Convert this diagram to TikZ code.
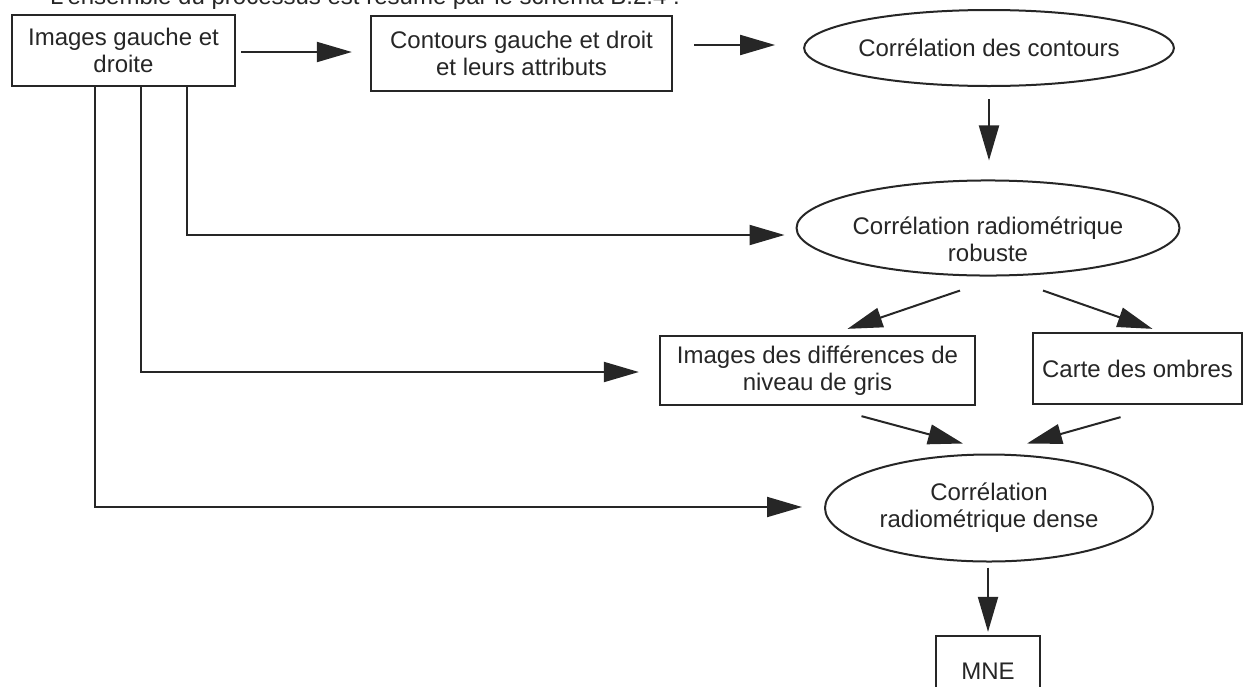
\documentclass[tikz,border=0pt]{standalone}
\usepackage{fontspec}
\setmainfont{Liberation Sans}
\usetikzlibrary{arrows.meta,shapes.geometric,calc}
\begin{document}
\begin{tikzpicture}[x=1pt,y=-1pt,
  every node/.style={font=\fontsize{24}{27}\selectfont, text=black!85, align=center, inner sep=0pt},
  boxnode/.style={draw=black!85, line width=2.3pt, rectangle},
  ellnode/.style={draw=black!85, line width=2pt, ellipse},
  arr/.style={draw=black!85, line width=2pt, -{Triangle[length=35pt,width=20pt]}},
  conn/.style={draw=black!85, line width=2pt}]
\useasboundingbox (0,0) rectangle (1244,686);
\clip (0,0) rectangle (1244,686);
\node[anchor=base west] (intro) at (50,4) {L'ensemble du processus est résumé par le schéma B.2.4 :};
\node[boxnode, minimum width=223pt, minimum height=71pt] (img) at (123.5,50.5) {Images gauche et\\droite};
\node[boxnode, minimum width=301pt, minimum height=75pt] (cont) at (521.5,53.5) {Contours gauche et droit\\et leurs attributs};
\node[ellnode, minimum width=328pt, minimum height=76pt] (corc) at (989,48) {Corrélation des contours};
\node[ellnode, minimum width=330pt, minimum height=92pt] (corr) at (988,228) {\rule{0pt}{40pt}Corrélation radiométrique\\robuste};
\node[boxnode, minimum width=315pt, minimum height=69pt] (diff) at (817.5,370.5) {Images des différences de\\niveau de gris};
\node[boxnode, minimum width=209pt, minimum height=71pt] (carte) at (1137.5,368.5) {Carte des ombres};
\node[ellnode, minimum width=328pt, minimum height=107pt] (dense) at (989,508) {Corrélation\\radiométrique dense};
\node[boxnode, minimum width=104pt, minimum height=70pt] (mne) at (988,671) {MNE};
% arrows
\draw[arr] ($(img.east)+(5,1.5)$) -- ($(cont.west)+(-18,-1.5)$);
\draw[arr] ($(cont.east)+(21,-8.5)$) -- ($(corc.west)+(-28,-3)$);
\draw[arr] ($(corc.south)+(0,12)$) -- ($(corr.north)+(1,-19)$);
\draw[arr] (img.south -| 187,0) -- (187,235) -- ($(corr.west)+(-11,7)$);
\draw[arr] (img.south -| 141,0) -- (141,372) -- ($(diff.west)+(-20,1.5)$);
\draw[arr] (img.south -| 95,0) -- (95,507) -- ($(dense.west)+(-22,-1)$);
\draw[arr] ($(corr.south)+(-28,14)$) -- ($(diff.north)+(30,-6)$);
\draw[arr] ($(corr.south)+(55,14)$) -- ($(carte.north)+(15,-3)$);
\draw[arr] ($(diff.south)+(44,10)$) -- ($(dense.north)+(-26,-10)$);
\draw[arr] ($(carte.south)+(-17,12)$) -- ($(dense.north)+(38,-10)$);
\draw[arr] ($(dense.south)+(-1,5)$) -- ($(mne.north)+(0,-3)$);
\end{tikzpicture}
\end{document}
